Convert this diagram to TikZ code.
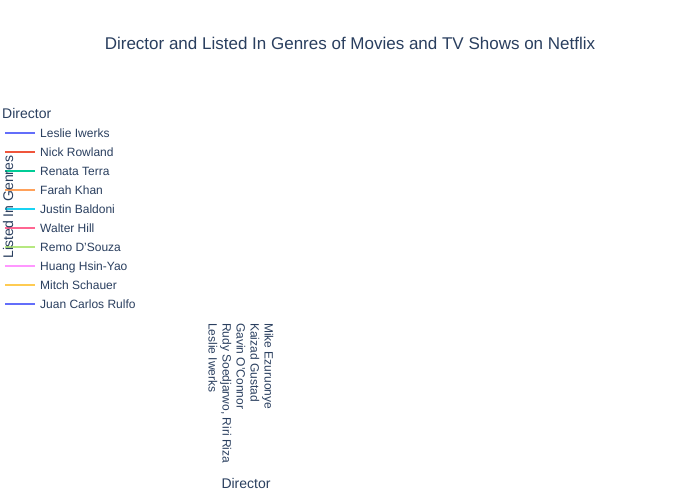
\documentclass[tikz,border=0pt]{standalone}
\usepackage{fontspec}
\setmainfont{Liberation Sans}
\definecolor{txt}{HTML}{2A3F5F}
\definecolor{c1}{HTML}{636EFA}
\definecolor{c2}{HTML}{EF553B}
\definecolor{c3}{HTML}{00CC96}
\definecolor{c4}{HTML}{FFA15A}
\definecolor{c5}{HTML}{19D3F3}
\definecolor{c6}{HTML}{FF6692}
\definecolor{c7}{HTML}{B6E880}
\definecolor{c8}{HTML}{FF97FF}
\definecolor{c9}{HTML}{FECB52}
\definecolor{c10}{HTML}{636EFA}
\tikzset{
  lbl/.style={text=txt, inner sep=0pt, font=\fontsize{12}{14}\selectfont},
  ttl/.style={text=txt, inner sep=0pt, font=\fontsize{14}{17}\selectfont},
  tick/.style={text=txt, inner sep=0pt, font=\fontsize{12}{14}\selectfont, rotate=-90, anchor=base west},
  legline/.style={line width=2pt},
}
\begin{document}
\begin{tikzpicture}[x=1pt,y=-1pt]
\fill[white] (0,0) rectangle (700,500);
\useasboundingbox (0,0) rectangle (700,500);
% title
\node[text=txt, inner sep=0pt, font=\fontsize{17}{20}\selectfont, anchor=base] (title) at (350,50) {Director and Listed In Genres of Movies and TV Shows on Netflix};
% legend
\node[ttl, anchor=base west] (legtitle) at (2,118) {Director};
\foreach \i/\name in {1/Leslie Iwerks,2/Nick Rowland,3/Renata Terra,4/Farah Khan,5/Justin Baldoni,6/Walter Hill,7/Remo D'Souza,8/Huang Hsin-Yao,9/Mitch Schauer,10/Juan Carlos Rulfo}{
  \coordinate (ls\i) at (5,{133+19*(\i-1)});
  \coordinate (le\i) at (35,{133+19*(\i-1)});
  \draw[legline, c\i] (ls\i) -- (le\i);
  \node[lbl, anchor=base west] (leg\i) at (40,{137.3+19*(\i-1)}) {\name};
}
% y axis title
\node[ttl, rotate=90, anchor=base] (ytitle) at (13,207) {Listed In Genres};
% x ticks
\node[tick] (t1) at (208.5,323) {Leslie Iwerks};
\node[tick] (t2) at (222.5,323) {Rudy Soedjarwo, Riri Riza};
\node[tick] (t3) at (236.5,323) {Gavin O'Connor};
\node[tick] (t4) at (250.5,323) {Kaizad Gustad};
\node[tick] (t5) at (264.5,323) {Mike Ezuruonye};
% x axis title
\node[ttl, anchor=base] (xtitle) at (246,488) {Director};
\end{tikzpicture}
\end{document}
